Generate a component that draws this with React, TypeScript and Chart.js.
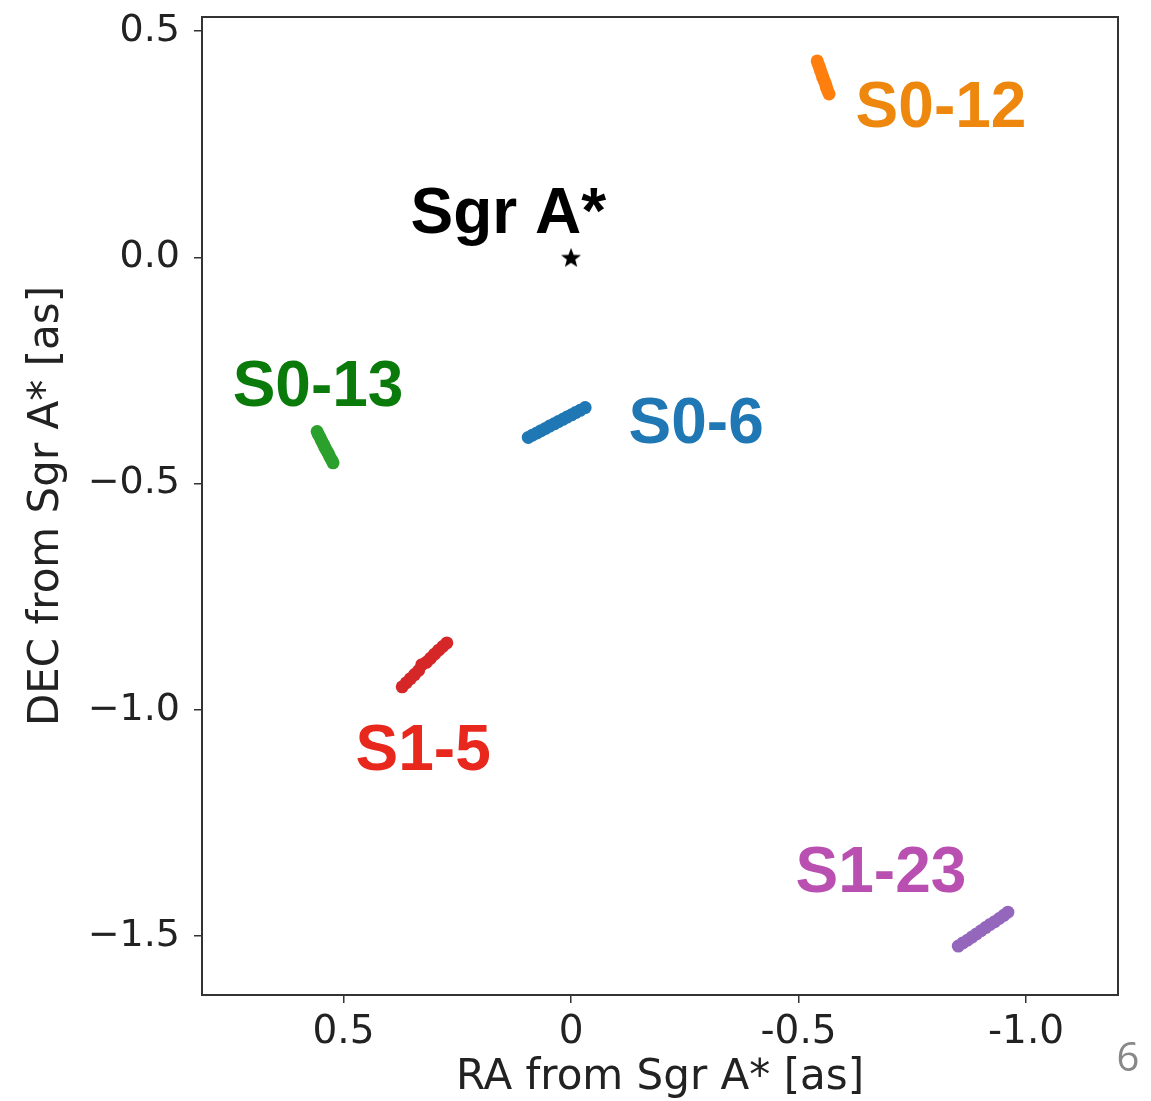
import React, { useEffect, useRef } from "react";
import { Chart, registerables } from "chart.js";

Chart.register(...registerables);

// ---- data (RA, DEC in arcsec) ----
const s012X = [-0.541, -0.543, -0.546, -0.548, -0.551, -0.553, -0.556, -0.559, -0.561, -0.564, -0.567];
const s012Y = [0.434, 0.427, 0.42, 0.413, 0.405, 0.398, 0.391, 0.384, 0.376, 0.368, 0.361];

const s013X = [0.558, 0.555, 0.551, 0.548, 0.544, 0.541, 0.537, 0.533, 0.53, 0.526, 0.523];
const s013Y = [-0.385, -0.392, -0.399, -0.406, -0.413, -0.42, -0.427, -0.434, -0.441, -0.448, -0.454];

const s06X = [0.094, 0.085, 0.075, 0.066, 0.056, 0.047, 0.037, 0.028, 0.018, 0.009, -0.001, -0.01, -0.02, -0.031];
const s06Y = [-0.398, -0.393, -0.388, -0.383, -0.378, -0.373, -0.368, -0.363, -0.358, -0.353, -0.348, -0.343, -0.338, -0.332];

const s15X = [0.371, 0.362, 0.353, 0.344, 0.335, 0.328, 0.318, 0.309, 0.3, 0.291, 0.282, 0.273];
const s15Y = [-0.949, -0.94, -0.931, -0.922, -0.913, -0.9, -0.895, -0.886, -0.877, -0.868, -0.86, -0.852];

const s123X = [-0.851, -0.861, -0.871, -0.881, -0.891, -0.901, -0.911, -0.921, -0.931, -0.941, -0.951, -0.96];
const s123Y = [-1.522, -1.515, -1.509, -1.502, -1.495, -1.488, -1.481, -1.474, -1.468, -1.461, -1.454, -1.447];

const sgrX = [0];
const sgrY = [0];

const labelTexts = ["S0-12", "Sgr A*", "S0-13", "S0-6", "S1-5", "S1-23"];
const labelX = [-0.813, 0.138, 0.556, -0.275, 0.325, -0.681];
const labelY = [0.328, 0.092, -0.29, -0.372, -1.093, -1.363];
const labelColors = ["#ee870e", "#000000", "#0a7a0a", "#1f77b4", "#e8271d", "#b94fb0"];

const xTicks = [0.5, 0, -0.5, -1.0];
const xTickLabels = ["0.5", "0", "-0.5", "-1.0"];
const yTicks = [0.5, 0, -0.5, -1.0, -1.5];
const yTickLabels = ["0.5", "0.0", "\u22120.5", "\u22121.0", "\u22121.5"];

const toPts = (xs: number[], ys: number[]) => xs.map((x, i) => ({ x, y: ys[i] }));

function makeStar(size: number) {
  const c = document.createElement("canvas");
  c.width = size;
  c.height = size;
  const g = c.getContext("2d")!;
  const cx = size / 2, cy = size / 2 + 1;
  const R = size / 2 - 0.5, r = R * 0.42;
  g.beginPath();
  for (let i = 0; i < 10; i++) {
    const a = -Math.PI / 2 + (i * Math.PI) / 5;
    const rad = i % 2 === 0 ? R : r;
    const px = cx + rad * Math.cos(a), py = cy + rad * Math.sin(a);
    if (i === 0) g.moveTo(px, py); else g.lineTo(px, py);
  }
  g.closePath();
  g.fillStyle = "#000";
  g.fill();
  return c;
}

const framePlugin = {
  id: "frame",
  afterDatasetsDraw(chart: any) {
    const { ctx, chartArea } = chart;
    ctx.save();
    ctx.strokeStyle = "#333";
    ctx.lineWidth = 2;
    ctx.strokeRect(chartArea.left, chartArea.top, chartArea.right - chartArea.left, chartArea.bottom - chartArea.top);
    ctx.restore();
  },
};

const labelPlugin = {
  id: "starLabels",
  afterDatasetsDraw(chart: any) {
    const { ctx, scales } = chart;
    ctx.save();
    ctx.font = 'bold 64px "Liberation Sans", Arial, sans-serif';
    ctx.textAlign = "center";
    ctx.textBaseline = "middle";
    labelTexts.forEach((t, i) => {
      ctx.fillStyle = labelColors[i];
      ctx.fillText(t, scales.x.getPixelForValue(labelX[i]), scales.y.getPixelForValue(labelY[i]));
    });
    ctx.restore();
  },
};

const pageNumPlugin = {
  id: "pageNum",
  afterDraw(chart: any) {
    const { ctx } = chart;
    ctx.save();
    ctx.font = '40px "Open Sans", "DejaVu Sans", sans-serif';
    ctx.fillStyle = "#888";
    ctx.textAlign = "center";
    ctx.textBaseline = "middle";
    ctx.fillText("6", 1128, 1060);
    ctx.restore();
  },
};

export default function App() {
  const ref = useRef<HTMLCanvasElement>(null);
  useEffect(() => {
    if (!ref.current) return;
    const star = makeStar(22);
    const ds = (xs: number[], ys: number[], color: string) => ({
      data: toPts(xs, ys),
      backgroundColor: color,
      borderColor: color,
      pointRadius: 6.5,
      pointBorderWidth: 0,
      showLine: false,
    });
    const chart = new Chart(ref.current, {
      type: "scatter",
      data: {
        datasets: [
          ds(s012X, s012Y, "#ff7f0e"),
          ds(s013X, s013Y, "#2ca02c"),
          ds(s06X, s06Y, "#1f77b4"),
          ds(s15X, s15Y, "#d62728"),
          ds(s123X, s123Y, "#9467bd"),
          {
            data: toPts(sgrX, sgrY),
            pointStyle: star as any,
            backgroundColor: "#000",
            borderColor: "#000",
            showLine: false,
          } as any,
        ],
      },
      options: {
        animation: false,
        responsive: false,
        maintainAspectRatio: false,
        layout: { padding: { left: 0, top: 17, right: 33, bottom: 0 } },
        plugins: { legend: { display: false }, tooltip: { enabled: false } },
        scales: {
          x: {
            type: "linear",
            reverse: true,
            min: -1.202,
            max: 0.811,
            afterFit: (s: any) => { s.height = 106; s.paddingLeft = 0; s.paddingRight = 0; },
            afterBuildTicks: (s: any) => { s.ticks = xTicks.map((v) => ({ value: v })); },
            grid: { display: true, drawOnChartArea: false, tickLength: 8, color: "#333", lineWidth: 1.5 },
            border: { display: true, color: "#333", width: 2 },
            ticks: {
              color: "#222",
              padding: 6,
              font: { family: '"DejaVu Sans", sans-serif', size: 39 },
              callback: (v: any) => {
                const i = xTicks.indexOf(Number(v));
                return i >= 0 ? xTickLabels[i] : "";
              },
            },
            title: {
              display: true,
              text: "RA from Sgr A* [as]",
              color: "#222",
              font: { family: '"DejaVu Sans", sans-serif', size: 42 },
              padding: { top: 0, bottom: -2 },
            },
          },
          y: {
            type: "linear",
            min: -1.63,
            max: 0.531,
            afterFit: (s: any) => { s.width = 202; s.paddingTop = 0; s.paddingBottom = 0; },
            afterBuildTicks: (s: any) => { s.ticks = yTicks.map((v) => ({ value: v })); },
            grid: { display: true, drawOnChartArea: false, tickLength: 8, color: "#333", lineWidth: 1.5 },
            border: { display: true, color: "#333", width: 2 },
            ticks: {
              color: "#222",
              padding: 14,
              font: { family: '"DejaVu Sans", sans-serif', size: 38 },
              callback: (v: any) => {
                const i = yTicks.indexOf(Number(v));
                return i >= 0 ? yTickLabels[i] : "";
              },
            },
            title: {
              display: true,
              text: "DEC from Sgr A* [as]",
              color: "#222",
              font: { family: '"DejaVu Sans", sans-serif', size: 42 },
              padding: { top: 22, bottom: 0 },
            },
          },
        },
      },
      plugins: [framePlugin, labelPlugin, pageNumPlugin],
    });
    return () => chart.destroy();
  }, []);
  return (
    <div style={{ position: "absolute", left: 0, top: 0, width: 1151, height: 1101, background: "#fff" }}>
      <canvas ref={ref} width={1151} height={1101} style={{ width: 1151, height: 1101 }} />
    </div>
  );
}
